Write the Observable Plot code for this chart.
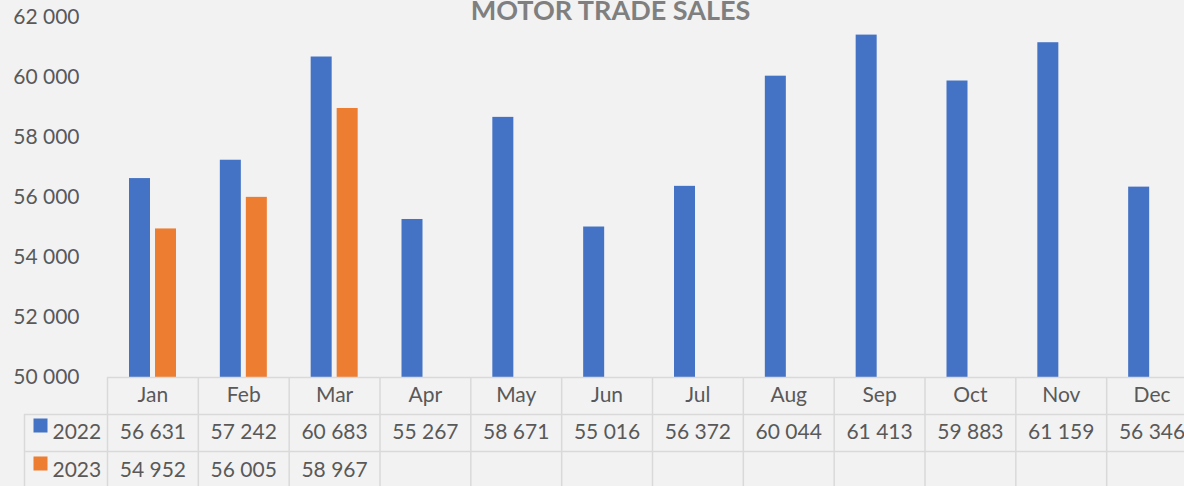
<!DOCTYPE html>
<html>
<head>
<meta charset="utf-8">
<script src="https://cdn.jsdelivr.net/npm/d3@7"></script>
<script src="https://cdn.jsdelivr.net/npm/@observablehq/plot@0.6"></script>
<style>
  html, body { margin: 0; padding: 0; background: #f2f2f2; overflow: hidden; }
  #chart { width: 1184px; height: 486px; overflow: hidden; position: relative; }
  #chart svg { display: block; }
</style>
</head>
<body>
<div id="chart"></div>
<script>
// ---- data ----
const title = "MOTOR TRADE SALES";
const months = ["Jan", "Feb", "Mar", "Apr", "May", "Jun", "Jul", "Aug", "Sep", "Oct", "Nov", "Dec"];
const seriesNames = ["2022", "2023"];
const sales2022 = [56631, 57242, 60683, 55267, 58671, 55016, 56372, 60044, 61413, 59883, 61159, 56346];
const sales2023 = [54952, 56005, 58967];
const yTicks = [50000, 52000, 54000, 56000, 58000, 60000, 62000];
const seriesColors = ["#4472C4", "#ED7D31"];

// ---- layout ----
// the table's last column runs past the right edge of the picture (as in the reference)
const W = 1184, H = 486, ML = 107, MR = -13, MT = 17, MB = 109;
const bw = (W - ML - MR) / months.length;
const base = yTicks[0];
const fmt = d => d3.format(",")(d).replace(/,/g, " ");
const textColor = "#595959";
const lineColor = "#d9d9d9";
const fs = 21;

const d22 = sales2022.map((v, i) => ({month: months[i], value: v, label: fmt(v)}));
const d23 = sales2023.map((v, i) => ({month: months[i], value: v, label: fmt(v)}));

const rowDy = [18, 55, 93];     // month row, 2022 row, 2023 row (centres below frame bottom)
const lineDy = [37, 74];        // row separators

const chart = Plot.plot({
  width: W, height: H,
  marginLeft: ML, marginRight: MR, marginTop: MT, marginBottom: MB,
  style: {background: "#f2f2f2", fontFamily: "Lato, 'Open Sans', sans-serif", overflow: "hidden"},
  x: {type: "band", domain: months, padding: 0, round: false, axis: null},
  y: {domain: [yTicks[0], yTicks[yTicks.length - 1]], axis: null},
  marks: [
    // y axis labels
    Plot.axisY({ticks: yTicks, tickSize: 0, tickPadding: 28, tickFormat: fmt, fontSize: fs, color: textColor, label: null}),
    // bars
    Plot.barY(d22, {x: "month", y1: base, y2: "value", fill: seriesColors[0], insetLeft: 22, insetRight: bw - 43}),
    Plot.barY(d23, {x: "month", y1: base, y2: "value", fill: seriesColors[1], insetLeft: 48, insetRight: bw - 69}),
    // title
    Plot.text([title], {frameAnchor: "top", dx: -42, dy: 2, lineAnchor: "bottom", fontSize: 27, fontWeight: "bold", fill: "#7f7f7f", fontFamily: "Lato, sans-serif"}),
    // table: horizontal lines
    Plot.ruleY([base], {stroke: lineColor, strokeWidth: 1.5}),
    ...lineDy.map(dy => Plot.ruleY([base], {stroke: lineColor, strokeWidth: 1.5, dy, insetLeft: -83})),
    // table: vertical lines
    Plot.ruleX(months, {x: d => d, dx: -bw / 2, y1: base, y2: base, insetBottom: -(MB + 2), stroke: lineColor, strokeWidth: 1.5}),
    Plot.ruleX([months[0]], {x: d => d, dx: -bw / 2 - 83, y1: base, y2: base, insetTop: lineDy[0], insetBottom: -(MB + 2), stroke: lineColor, strokeWidth: 1.5}),
    // table: month header
    Plot.text(months, {x: d => d, frameAnchor: "bottom", lineAnchor: "middle", dy: rowDy[0], text: d => d, fontSize: fs, fill: textColor}),
    // table: values
    Plot.text(d22, {x: "month", frameAnchor: "bottom", lineAnchor: "middle", dy: rowDy[1], text: "label", fontSize: fs, fill: textColor}),
    Plot.text(d23, {x: "month", frameAnchor: "bottom", lineAnchor: "middle", dy: rowDy[2], text: "label", fontSize: fs, fill: textColor}),
    // table: legend keys
    ...seriesNames.map((name, k) => Plot.dot([name], {x: () => months[0], frameAnchor: "bottom", dx: -(bw / 2) - 67, dy: rowDy[k + 1] - 7, symbol: "square", r: 7.9, fill: seriesColors[k], stroke: null})),
    ...seriesNames.map((name, k) => Plot.text([name], {x: () => months[0], frameAnchor: "bottom", lineAnchor: "middle", dx: -(bw / 2) - 55, dy: rowDy[k + 1], text: d => d, textAnchor: "start", fontSize: fs, fill: textColor}))
  ]
});
document.getElementById("chart").appendChild(chart);
</script>
</body>
</html>
